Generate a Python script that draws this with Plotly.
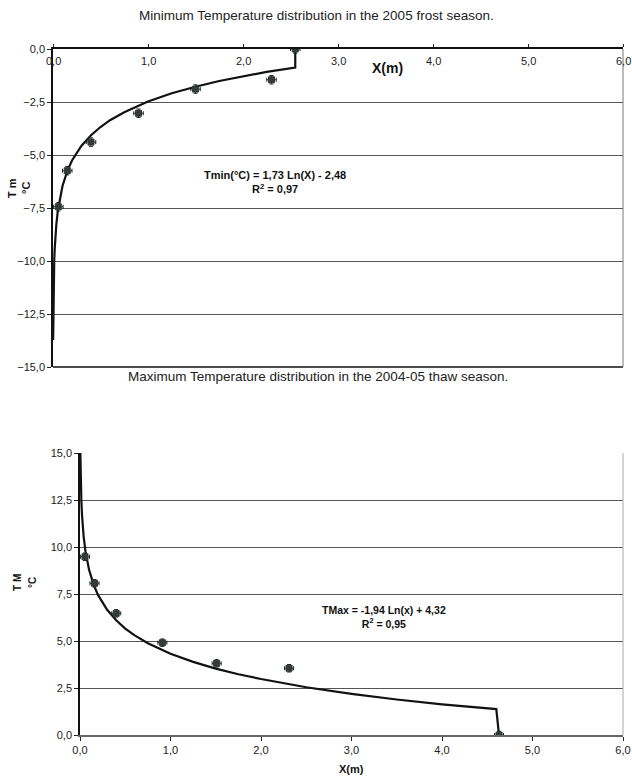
import plotly.graph_objects as go

# ---- Top chart: minimum temperature (2005 frost season) ----
min_x = [0.056, 0.15, 0.40, 0.90, 1.50, 2.30, 2.55]
min_t = [-7.44, -5.74, -4.39, -3.03, -1.89, -1.45, 0.0]
min_curve_x = [0.0015, 0.0022, 0.003, 0.006, 0.013, 0.018, 0.025, 0.035, 0.05, 0.075,
               0.1, 0.15, 0.2, 0.3, 0.4, 0.5, 0.6, 0.75, 0.9, 1.0, 1.25, 1.5, 1.75,
               2.0, 2.25, 2.55, 2.55]
min_curve_t = [-13.73, -13.07, -12.53, -11.33, -9.99, -9.43, -8.86, -8.28, -7.66, -6.96,
               -6.46, -5.76, -5.26, -4.56, -4.07, -3.68, -3.36, -2.98, -2.66, -2.48,
               -2.09, -1.78, -1.51, -1.28, -1.08, -0.88, 0.0]

# ---- Bottom chart: maximum temperature (2004-05 thaw season) ----
max_x = [0.055, 0.16, 0.40, 0.91, 1.51, 2.31, 4.63]
max_t = [9.48, 8.07, 6.47, 4.91, 3.81, 3.55, 0.0]
max_curve_x = [0.004, 0.005, 0.008, 0.011, 0.015, 0.022, 0.03, 0.04, 0.06, 0.08, 0.1,
               0.15, 0.2, 0.3, 0.4, 0.5, 0.6, 0.75, 0.85, 1.0, 1.25, 1.5, 1.75, 2.0,
               2.5, 3.0, 3.5, 4.0, 4.6, 4.63]
max_curve_t = [15.0, 14.60, 13.69, 13.07, 12.47, 11.73, 11.12, 10.57, 9.78, 9.22, 8.79,
               8.00, 7.44, 6.66, 6.10, 5.66, 5.31, 4.88, 4.64, 4.32, 3.89, 3.53, 3.23, 2.98,
               2.54, 2.19, 1.89, 1.63, 1.38, 0.0]

x_err = 0.05
t_err = 0.2

x_tick_vals = [0, 1, 2, 3, 4, 5, 6]
x_tick_text = ["0,0", "1,0", "2,0", "3,0", "4,0", "5,0", "6,0"]

# figure fills the whole 632x782 page (body margin removed by post_script)
W, H = 632, 782
FONT = "Liberation Sans, Arial, sans-serif"
MARK = "#333a3a"

fig = go.Figure()

def add_series(xs, ts, cx, ct, xa, ya):
    fig.add_trace(go.Scatter(x=cx, y=ct, mode="lines", xaxis=xa, yaxis=ya,
                             line=dict(color="#111111", width=2.2), showlegend=False,
                             hoverinfo="skip"))
    fig.add_trace(go.Scatter(x=xs, y=ts, mode="markers", xaxis=xa, yaxis=ya,
                             marker=dict(symbol="square", size=6, color=MARK,
                                         line=dict(color=MARK, width=1)),
                             error_x=dict(type="constant", value=x_err, color="#222222",
                                          thickness=1, width=2),
                             error_y=dict(type="constant", value=t_err, color="#222222",
                                          thickness=1, width=2),
                             showlegend=False))

add_series(min_x, min_t, min_curve_x, min_curve_t, "x", "y")
add_series(max_x, max_t, max_curve_x, max_curve_t, "x2", "y2")

def px_x(p):
    return p / W

def px_y(p):
    return 1 - p / H

tickfont = dict(family=FONT, size=11, color="#222222")

fig.update_layout(
    width=W, height=H,
    margin=dict(l=0, r=0, t=0, b=0, autoexpand=False),
    paper_bgcolor="white", plot_bgcolor="white",
    separators=",.",
    font=dict(family=FONT, color="#222222"),
    xaxis=dict(domain=[px_x(53), px_x(623)], range=[0, 6], side="top", automargin=False,
               anchor="y", tickvals=x_tick_vals, showticklabels=False,
               ticks="outside", ticklen=3, tickcolor="#222222",
               showline=True, linecolor="#111111", linewidth=1.5,
               showgrid=False, zeroline=False, fixedrange=True),
    yaxis=dict(domain=[px_y(367), px_y(49)], range=[-15, 0], dtick=2.5, automargin=False,
               tickformat=".1f", anchor="x", ticks="outside", ticklen=4,
               tickcolor="#222222", showline=True, linecolor="#111111", linewidth=1.5,
               showgrid=True, gridcolor="#555555", gridwidth=1, zeroline=False,
               tickfont=tickfont, fixedrange=True),
    xaxis2=dict(domain=[px_x(80), px_x(623)], range=[0, 6], anchor="y2", automargin=False,
                tickvals=x_tick_vals, ticktext=x_tick_text, ticks="outside", ticklen=4,
                tickcolor="#222222", showline=True, linecolor="#666666", linewidth=1.5,
                showgrid=False, zeroline=False, tickfont=tickfont, fixedrange=True),
    yaxis2=dict(domain=[px_y(735), px_y(453)], range=[0, 15], dtick=2.5, automargin=False,
                tickformat=".1f", anchor="x2", ticks="outside", ticklen=4,
                tickcolor="#222222", showline=True, linecolor="#111111", linewidth=1.5,
                showgrid=True, gridcolor="#555555", gridwidth=1, zeroline=False,
                tickfont=tickfont, fixedrange=True),
)

# plot area borders (bottom/right of top chart, right of bottom chart)
fig.add_shape(type="line", xref="x domain", yref="y domain", x0=0, x1=1, y0=0, y1=0,
              line=dict(color="#111111", width=1.5))
fig.add_shape(type="line", xref="x domain", yref="y domain", x0=1, x1=1, y0=0, y1=1,
              line=dict(color="#777777", width=1))
fig.add_shape(type="line", xref="x2 domain", yref="y2 domain", x0=1, x1=1, y0=0, y1=1,
              line=dict(color="#aaaaaa", width=1))

def pann(text, x, y, size, angle=0, color="#111111", family=FONT):
    return dict(text=text, x=px_x(x), y=px_y(y), xref="paper", yref="paper",
                xanchor="center", yanchor="middle", showarrow=False, textangle=angle,
                align="center", font=dict(size=size, family=family, color=color))

ann = []
# top chart x tick labels drawn inside the plot, under the top axis line
for v, t in zip(x_tick_vals, x_tick_text):
    ann.append(dict(text=t, x=v, y=0, xref="x", yref="y", showarrow=False,
                    xanchor="center", yanchor="top", yshift=-4, font=tickfont))
ann.append(pann("Minimum Temperature distribution in the 2005 frost season.", 316, 15, 13.5,
                color="#222222"))
ann.append(pann("Maximum Temperature distribution in the 2004-05 thaw season.", 318, 376, 13.5,
                color="#222222"))
ann.append(pann("<b>X(m)</b>", 387, 68, 14))
ann.append(pann("<b>X(m)</b>", 351, 769, 11))
ann.append(pann("<b>T m</b>", 12, 188, 11, angle=-90))
ann.append(pann("<b>°C</b>", 26, 188, 11, angle=-90))
ann.append(pann("<b>T M</b>", 17, 583, 10, angle=-90))
ann.append(pann("<b>°C</b>", 32, 583, 10, angle=-90))
ann.append(pann("<b>Tmin(°C) = 1,73 Ln(X) - 2,48<br>R<sup>2</sup> = 0,97</b>", 275, 182, 11))
ann.append(pann("<b>TMax = -1,94 Ln(x) + 4,32<br>R<sup>2</sup> = 0,95</b>", 384, 617, 10.5))
fig.update_layout(annotations=ann)

fig.write_html("out.html", config={"displayModeBar": False},
               post_script="document.body.style.margin='0';"
                           "document.body.style.padding='0';"
                           "document.body.style.overflow='hidden';")
